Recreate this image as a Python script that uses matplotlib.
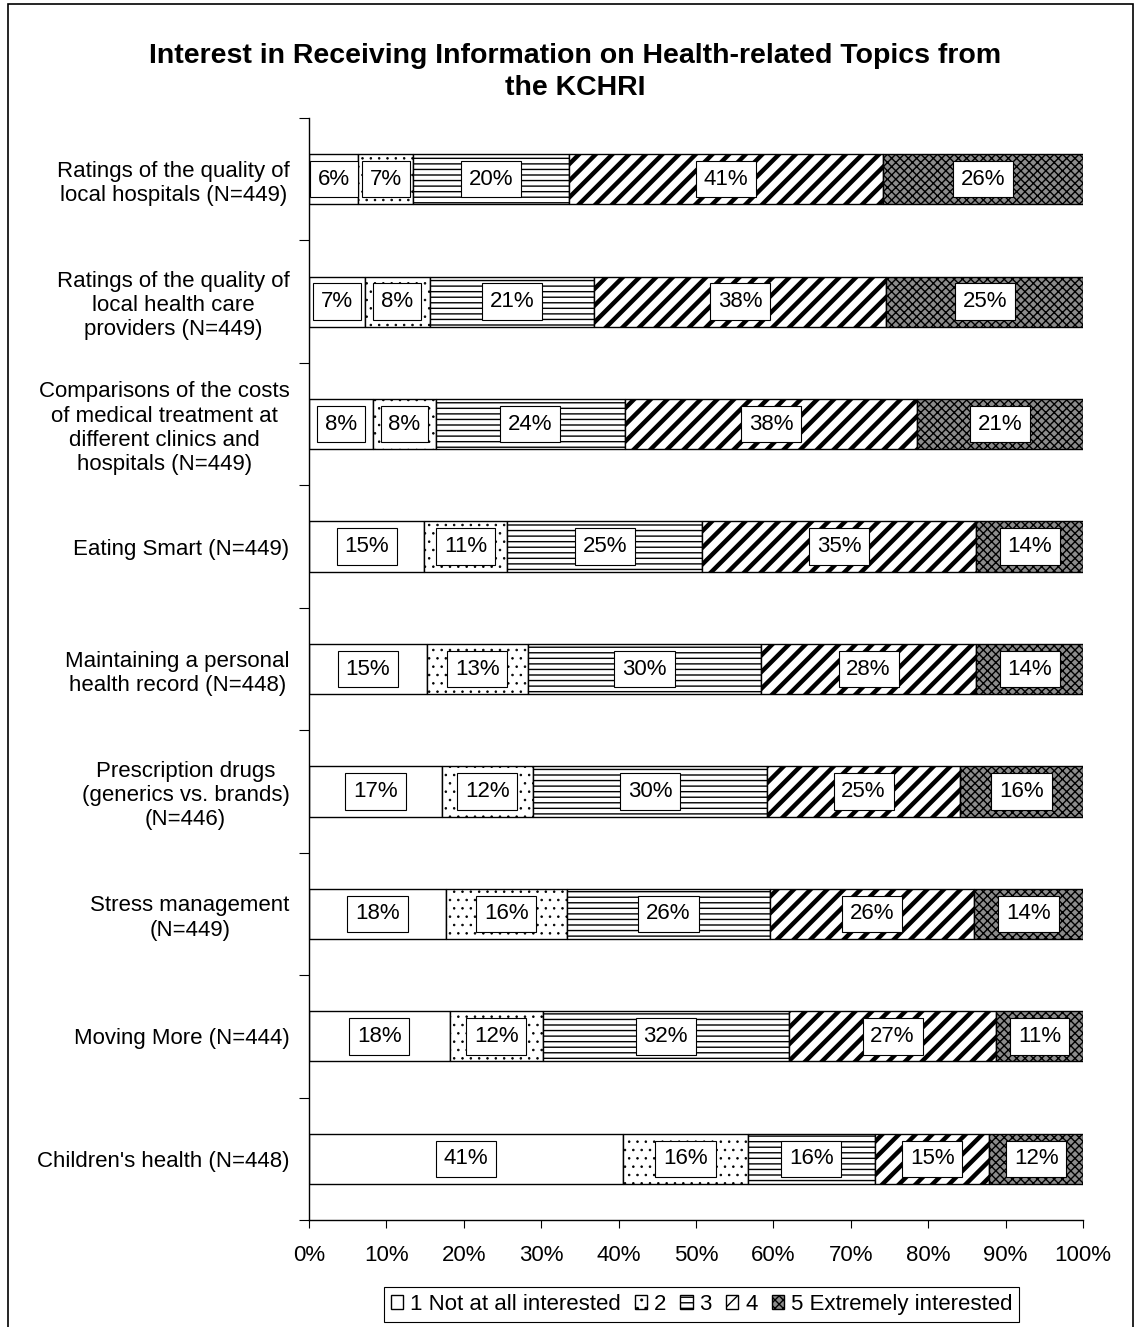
"""
Stacked bar chart: interest in receiving health information from the KCHRI
"""

import matplotlib as mpl
import matplotlib.pyplot as plt
from matplotlib.patches import Rectangle
import numpy as np

FONT_SIZE = 16

mpl.rcParams.update(
    {
        "font.family": ["Liberation Sans", "DejaVu Sans"],
        "font.size": FONT_SIZE,
        "axes.linewidth": 1,
        "hatch.color": "black",
    }
)

categories = [
    "Ratings of the quality of\nlocal hospitals (N=449)",
    "Ratings of the quality of\nlocal health care\nproviders (N=449)",
    "Comparisons of the costs\nof medical treatment at\ndifferent clinics and\nhospitals (N=449)",
    "Eating Smart (N=449)",
    "Maintaining a personal\nhealth record (N=448)",
    "Prescription drugs\n(generics vs. brands)\n(N=446)",
    "Stress management\n(N=449)",
    "Moving More (N=444)",
    "Children's health (N=448)",
]

series_names = [
    "1 Not at all interested",
    "2",
    "3",
    "4",
    "5 Extremely interested",
]

# percentages per response level, one list per level, in category order
not_at_all = [6.4, 7.2, 8.3, 14.9, 15.2, 17.2, 17.7, 18.2, 40.6]
level_2 = [7.1, 8.4, 8.1, 10.7, 13.1, 11.7, 15.6, 12.0, 16.1]
level_3 = [20.1, 21.2, 24.4, 25.2, 30.1, 30.3, 26.3, 31.8, 16.4]
level_4 = [40.6, 37.8, 37.8, 35.4, 27.8, 24.9, 26.3, 26.8, 14.8]
extremely = [25.8, 25.4, 21.4, 13.8, 13.8, 15.9, 14.1, 11.2, 12.1]

x_ticks = [0, 10, 20, 30, 40, 50, 60, 70, 80, 90, 100]

series = [not_at_all, level_2, level_3, level_4, extremely]
styles = [
    dict(facecolor="white", hatch="", lw_hatch=1.0),
    dict(facecolor="white", hatch="..", lw_hatch=0.6),
    dict(facecolor="white", hatch="---", lw_hatch=1.0),
    dict(facecolor="white", hatch="//", lw_hatch=3.2),
    dict(facecolor="#8c8c8c", hatch="xxxx", lw_hatch=1.0),
]

fig = plt.figure(figsize=(11.35, 13.27), dpi=100)
ax = fig.add_axes([0.2722, 0.0806, 0.682, 0.8305])

y = np.arange(len(categories))
left = np.zeros(len(categories))
handles = []
for vals, name, st in zip(series, series_names, styles):
    vals = np.array(vals)
    mpl.rcParams["hatch.linewidth"] = st["lw_hatch"]
    bars = ax.barh(
        y,
        vals,
        left=left,
        height=0.41,
        color=st["facecolor"],
        edgecolor="black",
        hatch=st["hatch"],
        linewidth=1,
        label=name,
    )
    handles.append(bars)
    for yi, l, v in zip(y, left, vals):
        ax.text(
            l + v / 2,
            yi,
            f"{v:.0f}%",
            ha="center",
            va="center",
            fontsize=FONT_SIZE,
            bbox=dict(boxstyle="square,pad=0.35", facecolor="white",
                      edgecolor="black", linewidth=0.8),
        )
    left = left + vals

ax.set_xlim(0, 100)
ax.set_ylim(len(categories) - 0.5, -0.5)
ax.set_xticks(x_ticks)
ax.set_xticklabels([f"{t}%" for t in x_ticks])
ax.tick_params(axis="x", direction="out", length=6, pad=12, labelsize=FONT_SIZE)

# category boundaries carry the tick marks, the labels sit in between
ax.set_yticks(np.arange(len(categories) + 1) - 0.5)
ax.set_yticklabels([])
ax.tick_params(axis="y", which="major", direction="out", length=7)
ax.set_yticks(y, minor=True)
ax.set_yticklabels(categories, minor=True, multialignment="center",
                   linespacing=1.2)
ax.tick_params(axis="y", which="minor", length=0, pad=14, labelsize=FONT_SIZE)

ax.spines["top"].set_visible(False)
ax.spines["right"].set_visible(False)

fig.text(
    0.507,
    0.946,
    "Interest in Receiving Information on Health-related Topics from\nthe KCHRI",
    ha="center",
    va="center",
    fontsize=20.5,
    fontweight="bold",
    linespacing=1.3,
)

leg = fig.legend(
    handles,
    series_names,
    loc="lower center",
    bbox_to_anchor=(0.618, 0.004),
    ncol=5,
    frameon=True,
    fancybox=False,
    edgecolor="black",
    framealpha=1,
    handlelength=0.55,
    handleheight=0.55,
    handletextpad=0.3,
    columnspacing=0.65,
    borderpad=0.3,
    borderaxespad=0.0,
    fontsize=FONT_SIZE,
)
leg.get_frame().set_linewidth(0.8)

# outer border of the chart area
fig.add_artist(
    Rectangle((0.007, -0.01), 0.991, 1.007,
              transform=fig.transFigure, fill=False,
              edgecolor="black", linewidth=1.2)
)

fig.savefig("out.png", dpi=100)
plt.close(fig)
